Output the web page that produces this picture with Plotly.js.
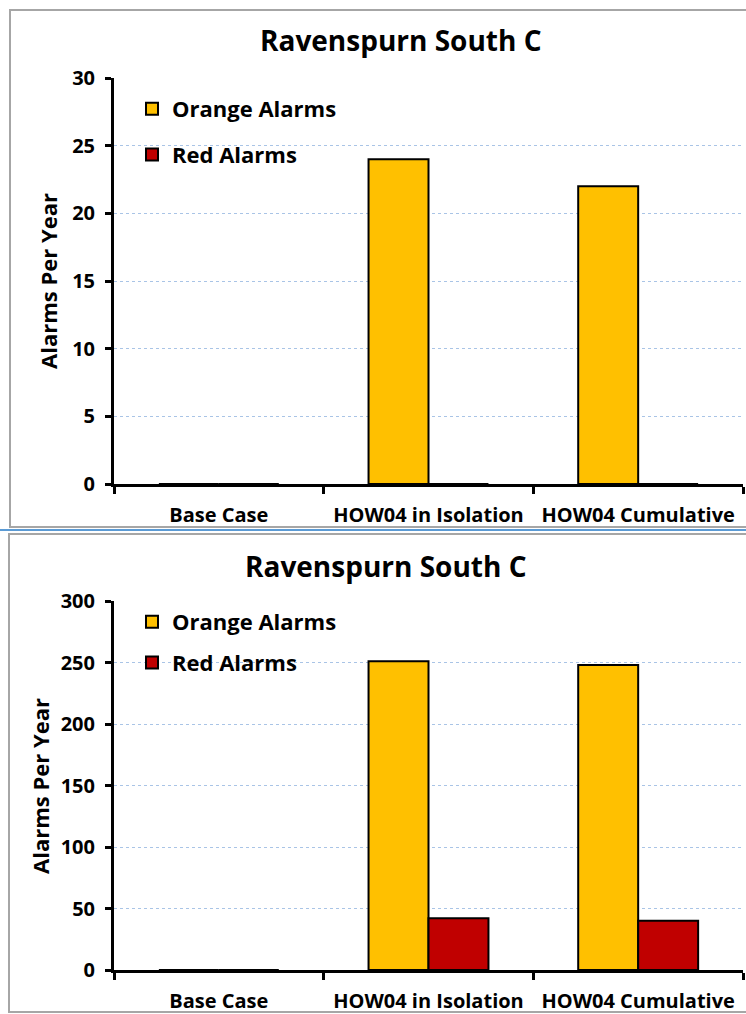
<!DOCTYPE html>
<html>
<head>
<meta charset="utf-8">
<script src="https://cdn.plot.ly/plotly-3.0.1.min.js"></script>
<style>html,body{margin:0;padding:0;background:#fff;}#chart{width:746px;height:1014px;}</style>
</head>
<body>
<div id="chart"></div>
<script>
const categories = ["Base Case", "HOW04 in Isolation", "HOW04 Cumulative"];
const orangeTop = [0, 24, 22];
const redTop = [0, 0, 0];
const orangeBottom = [0, 251, 248];
const redBottom = [0, 42, 40];
const chartTitle = "Ravenspurn South C";
const yTitle = "Alarms Per Year";

const W = 746, H = 1014;
const FONT = "'Open Sans', sans-serif";
const ORANGE = "#FFC000", RED = "#C00000";
const px = v => v / W;
const py = v => 1 - v / H;

const barLine = {color: "#000", width: 2};
const traces = [
  {type: "bar", x: categories, y: orangeTop, name: "Orange Alarms", marker: {color: ORANGE, line: barLine}, xaxis: "x", yaxis: "y", legend: "legend", legendgroup: "a"},
  {type: "bar", x: categories, y: redTop, name: "Red Alarms", marker: {color: RED, line: barLine}, xaxis: "x", yaxis: "y", legend: "legend", legendgroup: "b"},
  {type: "bar", x: categories, y: orangeBottom, name: "Orange Alarms", marker: {color: ORANGE, line: barLine}, xaxis: "x2", yaxis: "y2", legend: "legend2", legendgroup: "c"},
  {type: "bar", x: categories, y: redBottom, name: "Red Alarms", marker: {color: RED, line: barLine}, xaxis: "x2", yaxis: "y2", legend: "legend2", legendgroup: "d"}
];

const xAxisBase = {
  type: "category", range: [-0.5, 2.5], domain: [px(114), px(743)],
  showline: true, linecolor: "#000", linewidth: 3,
  ticks: "outside", tickson: "boundaries", ticklen: 7, tickwidth: 3, tickcolor: "#000",
  ticklabelstandoff: 11,
  tickfont: {family: FONT, size: 20, color: "#000", weight: "bold"},
  showgrid: false, zeroline: false, fixedrange: true
};
const yAxisBase = {
  showline: true, linecolor: "#000", linewidth: 3,
  ticks: "outside", ticklen: 6, tickwidth: 3, tickcolor: "#000",
  ticklabelstandoff: 6,
  tickfont: {family: FONT, size: 20, color: "#000", weight: "bold"},
  showgrid: true, gridcolor: "#a9c4e6", gridwidth: 1, griddash: "dot",
  zeroline: false, fixedrange: true
};

const legendBase = {
  font: {family: FONT, size: 22, color: "#000", weight: "bold"},
  bgcolor: "rgba(0,0,0,0)", xanchor: "left", yanchor: "top",
  traceorder: "grouped", itemwidth: 30
};

const titleFont = {family: FONT, size: 28, color: "#000", weight: "bold"};
const yTitleFont = {family: FONT, size: 22, color: "#000", weight: "bold"};

const layout = {
  width: W, height: H,
  margin: {l: 0, r: 0, t: 0, b: 0},
  paper_bgcolor: "#fff", plot_bgcolor: "rgba(0,0,0,0)",
  barmode: "group", bargap: 0.428, bargroupgap: 0,
  xaxis: Object.assign({}, xAxisBase, {anchor: "y"}),
  yaxis: Object.assign({}, yAxisBase, {anchor: "x", domain: [py(484), py(78)], range: [0, 30], dtick: 5}),
  xaxis2: Object.assign({}, xAxisBase, {anchor: "y2"}),
  yaxis2: Object.assign({}, yAxisBase, {anchor: "x2", domain: [py(970), py(601)], range: [0, 300], dtick: 50}),
  legend: Object.assign({}, legendBase, {x: px(132), y: py(88), tracegroupgap: 14}),
  legend2: Object.assign({}, legendBase, {x: px(132), y: py(601), tracegroupgap: 9}),
  showlegend: true,
  annotations: [
    {text: chartTitle, xref: "paper", yref: "paper", x: px(401), y: py(40), xanchor: "center", yanchor: "middle", showarrow: false, font: titleFont},
    {text: chartTitle, xref: "paper", yref: "paper", x: px(386), y: py(566), xanchor: "center", yanchor: "middle", showarrow: false, font: titleFont},
    {text: yTitle, xref: "paper", yref: "paper", x: px(48), y: py(281), xanchor: "center", yanchor: "middle", textangle: -90, showarrow: false, font: yTitleFont},
    {text: yTitle, xref: "paper", yref: "paper", x: px(40), y: py(786), xanchor: "center", yanchor: "middle", textangle: -90, showarrow: false, font: yTitleFont}
  ],
  shapes: [
    {type: "rect", xref: "paper", yref: "paper", x0: px(10), x1: px(748), y0: py(527), y1: py(10), line: {color: "#a6a6a6", width: 2}},
    {type: "line", xref: "paper", yref: "paper", x0: 0, x1: 1, y0: py(530), y1: py(530), line: {color: "#5b9bd5", width: 2}},
    {type: "rect", xref: "paper", yref: "paper", x0: px(9), x1: px(748), y0: py(1012), y1: py(534), line: {color: "#a6a6a6", width: 2}}
  ]
};

Plotly.newPlot("chart", traces, layout, {displayModeBar: false, staticPlot: true});
</script>
</body>
</html>
